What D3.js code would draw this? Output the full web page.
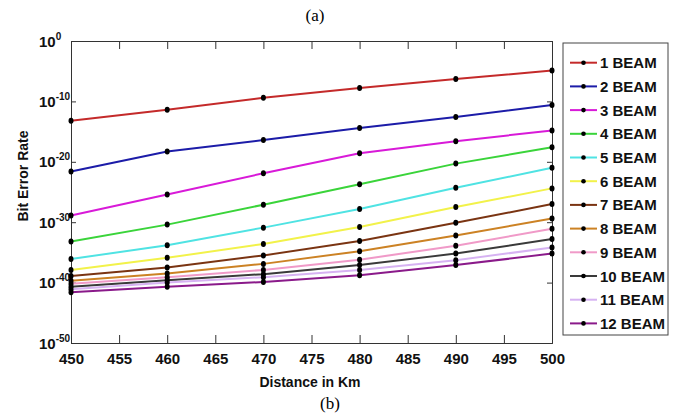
<!DOCTYPE html>
<html>
<head>
<meta charset="utf-8">
<script src="https://cdn.jsdelivr.net/npm/d3@7"></script>
<style>
  body { margin: 0; background: #fff; }
  svg { display: block; }
  .lbl { font-family: "Liberation Sans", Arial, sans-serif; font-weight: bold; fill: #111; }
</style>
</head>
<body>
<div id="vis"></div>
<script>
// distances (km)
var distances = [450, 460, 470, 480, 490, 500];

// series names
var beams = ["1 BEAM", "2 BEAM", "3 BEAM", "4 BEAM", "5 BEAM", "6 BEAM",
             "7 BEAM", "8 BEAM", "9 BEAM", "10 BEAM", "11 BEAM", "12 BEAM"];

// BER exponents (log10 BER), one array per beam
var beam1  = [-13.2, -11.4,  -9.4,  -7.8,  -6.3,  -4.9];
var beam2  = [-21.6, -18.3, -16.4, -14.4, -12.6, -10.6];
var beam3  = [-28.9, -25.4, -21.9, -18.6, -16.6, -14.8];
var beam4  = [-33.2, -30.4, -27.1, -23.7, -20.3, -17.6];
var beam5  = [-36.1, -33.8, -30.9, -27.8, -24.3, -21.0];
var beam6  = [-37.9, -35.9, -33.6, -30.8, -27.5, -24.4];
var beam7  = [-38.9, -37.5, -35.5, -33.1, -30.1, -27.0];
var beam8  = [-39.7, -38.5, -36.9, -34.8, -32.2, -29.4];
var beam9  = [-40.2, -39.1, -37.9, -36.2, -33.9, -31.1];
var beam10 = [-40.7, -39.6, -38.6, -37.1, -35.2, -32.8];
var beam11 = [-41.1, -40.0, -39.1, -37.9, -36.3, -34.2];
var beam12 = [-41.6, -40.7, -39.9, -38.8, -37.1, -35.2];

var colors = ["#c42a2a", "#1c1ca8", "#d81ad8", "#3ad43a", "#4fe3e3", "#f2f24a",
              "#7a3412", "#cc8224", "#f09ac8", "#3a3a3a", "#d6b2f2", "#8a1a8a"];

// tick values
var xTicks = [450, 455, 460, 465, 470, 475, 480, 485, 490, 495, 500];
var yTickExp = [0, -10, -20, -30, -40, -50];

var seriesVals = [beam1, beam2, beam3, beam4, beam5, beam6,
                  beam7, beam8, beam9, beam10, beam11, beam12];

var data = beams.map(function(name, i) {
  return {
    name: name,
    color: colors[i],
    values: distances.map(function(d, j) { return {x: d, y: Math.pow(10, seriesVals[i][j])}; })
  };
});

var width = 676, height = 416;
var margin = {top: 41, right: 124, bottom: 73, left: 71};
var pw = width - margin.left - margin.right,
    ph = height - margin.top - margin.bottom;

var svg = d3.select("#vis").append("svg")
  .attr("width", width)
  .attr("height", height);

var x = d3.scaleLinear().domain([450, 500]).range([0, pw]);
var y = d3.scaleLog().domain([1e-50, 1]).range([ph, 0]);

var g = svg.append("g")
  .attr("transform", "translate(" + margin.left + "," + margin.top + ")");

// bottom axis
var xAxis = g.append("g")
  .attr("transform", "translate(0," + ph + ")")
  .call(d3.axisBottom(x).tickValues(xTicks).tickSize(-8).tickPadding(10).tickFormat(d3.format("d")));
xAxis.selectAll("text").attr("class", "lbl").style("font-size", "15px").attr("fill", "#111");

// top axis (ticks only)
g.append("g")
  .call(d3.axisTop(x).tickValues(xTicks).tickSize(-8).tickFormat(""));

// left axis
var yAxis = g.append("g")
  .call(d3.axisLeft(y).tickValues(yTickExp.map(function(e) { return Math.pow(10, e); }))
    .tickSize(-5).tickFormat(""));
yAxis.selectAll(".tick text").each(function(d) {
  var t = d3.select(this).attr("class", "lbl").attr("fill", "#111")
    .attr("x", -32).attr("text-anchor", "start")
    .style("font-size", "15px").attr("dy", 5);
  t.append("tspan").text("10");
  t.append("tspan").attr("dy", -7).style("font-size", "10px")
    .text(Math.round(Math.log10(d)));
});

// right axis (ticks only)
g.append("g")
  .attr("transform", "translate(" + pw + ",0)")
  .call(d3.axisRight(y).tickValues(yTickExp.map(function(e) { return Math.pow(10, e); }))
    .tickSize(-5).tickFormat(""));

g.selectAll(".domain").attr("stroke", "#333");
g.selectAll(".tick line").attr("stroke", "#333");

// lines
var line = d3.line()
  .x(function(d) { return x(d.x); })
  .y(function(d) { return y(d.y); });

var series = g.selectAll(".series")
  .data(data)
  .enter().append("g")
  .attr("class", "series");

series.append("path")
  .attr("d", function(d) { return line(d.values); })
  .attr("fill", "none")
  .attr("stroke", function(d) { return d.color; })
  .attr("stroke-width", 2);

series.selectAll("ellipse")
  .data(function(d) { return d.values; })
  .enter().append("ellipse")
  .attr("cx", function(d) { return x(d.x); })
  .attr("cy", function(d) { return y(d.y); })
  .attr("rx", 2.5)
  .attr("ry", 3)
  .attr("fill", "#000");

// axis labels
svg.append("text")
  .attr("class", "lbl")
  .attr("x", 310)
  .attr("y", 387)
  .attr("text-anchor", "middle")
  .style("font-size", "14px")
  .text("Distance in Km");

svg.append("text")
  .attr("class", "lbl")
  .attr("transform", "translate(28,176) rotate(-90)")
  .attr("text-anchor", "middle")
  .style("font-size", "14px")
  .text("Bit Error Rate");

// panel captions
svg.append("text")
  .attr("x", 315).attr("y", 21)
  .attr("text-anchor", "middle")
  .style("font-family", "'Liberation Serif', 'Times New Roman', serif")
  .style("font-size", "17px")
  .text("(a)");

svg.append("text")
  .attr("x", 330).attr("y", 409)
  .attr("text-anchor", "middle")
  .style("font-family", "'Liberation Serif', 'Times New Roman', serif")
  .style("font-size", "17px")
  .text("(b)");

// legend
var lx = 563, ly = 43, lw = 105, lh = 292, step = 23.7;
var legend = svg.append("g");
legend.append("rect")
  .attr("x", lx).attr("y", ly)
  .attr("width", lw).attr("height", lh)
  .attr("fill", "#fff")
  .attr("stroke", "#444");

var items = legend.selectAll(".item")
  .data(data)
  .enter().append("g")
  .attr("transform", function(d, i) { return "translate(0," + (62.7 + i * step) + ")"; });

items.append("line")
  .attr("x1", 570).attr("x2", 597)
  .attr("stroke", function(d) { return d.color; })
  .attr("stroke-width", 2);
items.append("circle")
  .attr("cx", 583.5).attr("r", 2.3).attr("fill", "#000");
items.append("text")
  .attr("class", "lbl")
  .attr("x", 600).attr("y", 5.5)
  .style("font-size", "15px")
  .text(function(d) { return d.name; });
</script>
</body>
</html>
